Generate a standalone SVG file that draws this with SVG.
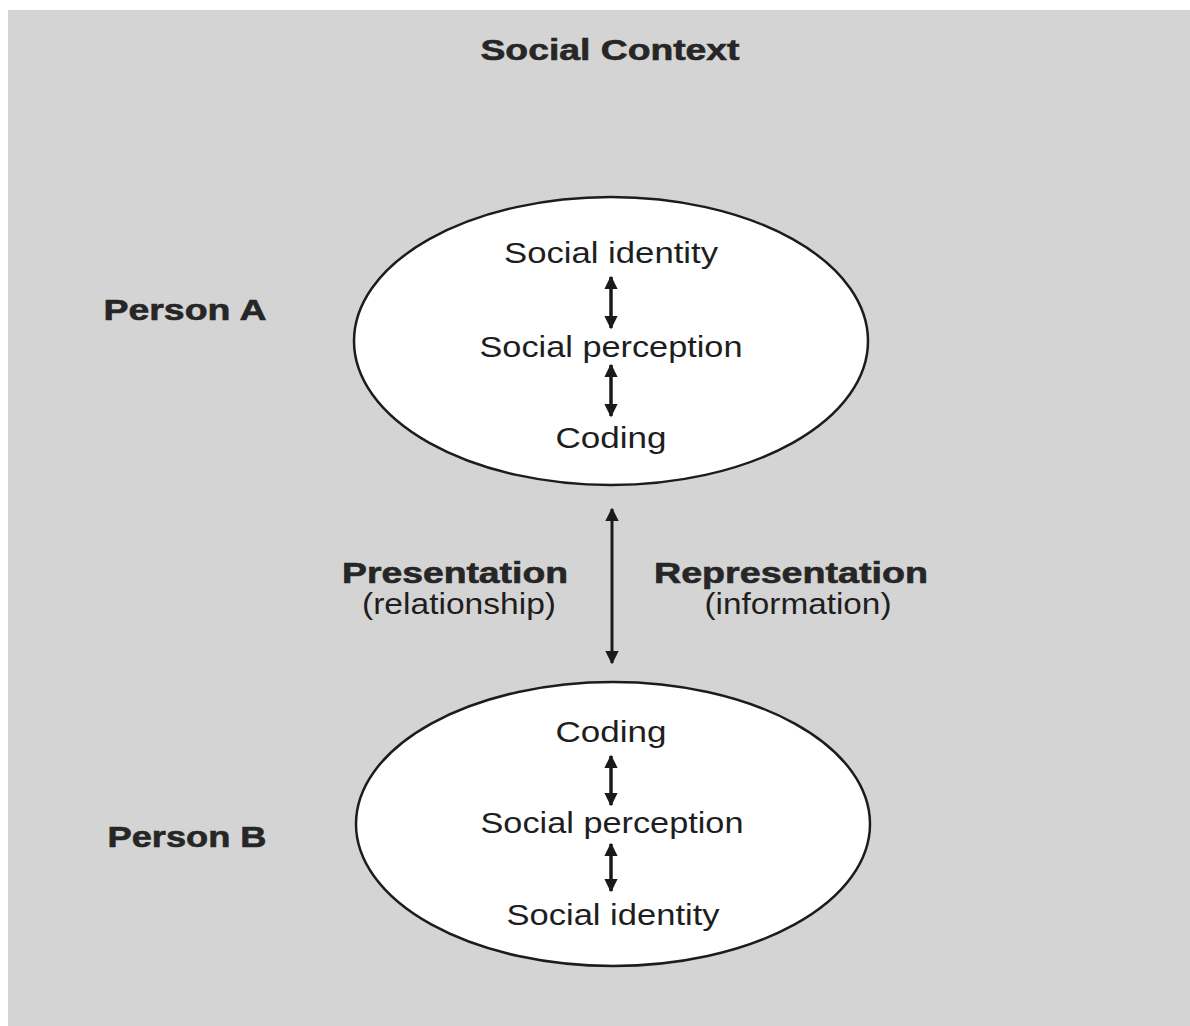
<svg xmlns="http://www.w3.org/2000/svg" width="1190" height="1026" viewBox="0 0 1190 1026">
<style>
  .bg { fill: #d4d4d4; }
  .node { fill: #ffffff; stroke: #1c1c1c; stroke-width: 2.5; }
  .t { font-family: "Liberation Sans", Arial, sans-serif; font-size: 29px; fill: #1e1e1e; text-anchor: middle; }
  .b { font-family: "Liberation Sans", Arial, sans-serif; font-size: 29px; font-weight: bold; fill: #262626; text-anchor: middle; stroke: #262626; stroke-width: 0.6; }
  .conn { stroke: #1a1a1a; fill: none; }
  .inner { stroke-width: 3.5; }
  .mid { stroke-width: 3; }
</style>
<defs>
  <marker id="ah" viewBox="0 0 10 10" refX="9" refY="5" markerWidth="3.8" markerHeight="3.8" markerUnits="strokeWidth" orient="auto-start-reverse">
    <path d="M0,0 L10,5 L0,10 z" fill="#1a1a1a"/>
  </marker>
  <marker id="ahm" viewBox="0 0 10 10" refX="9" refY="5" markerWidth="4.5" markerHeight="4.5" markerUnits="strokeWidth" orient="auto-start-reverse">
    <path d="M0,0 L10,5 L0,10 z" fill="#1a1a1a"/>
  </marker>
</defs>
<rect width="1190" height="1026" fill="#ffffff"/>
<rect class="bg" x="8" y="10" width="1182" height="1016"/>

<g id="title">
  <text class="b" x="610" y="60" textLength="259" lengthAdjust="spacingAndGlyphs">Social Context</text>
</g>
<g id="labelA">
  <text class="b" x="185" y="320" textLength="163" lengthAdjust="spacingAndGlyphs">Person A</text>
</g>
<g id="labelB">
  <text class="b" x="187" y="847" textLength="159" lengthAdjust="spacingAndGlyphs">Person B</text>
</g>

<g id="personA">
  <ellipse class="node" cx="611" cy="341" rx="257" ry="144"/>
  <text class="t" x="611" y="263" textLength="214" lengthAdjust="spacingAndGlyphs">Social identity</text>
  <text class="t" x="611" y="357" textLength="263" lengthAdjust="spacingAndGlyphs">Social perception</text>
  <text class="t" x="611" y="448" textLength="111" lengthAdjust="spacingAndGlyphs">Coding</text>
</g>

<g id="personB">
  <ellipse class="node" cx="613" cy="824" rx="257" ry="142"/>
  <text class="t" x="611" y="742" textLength="111" lengthAdjust="spacingAndGlyphs">Coding</text>
  <text class="t" x="612" y="833" textLength="263" lengthAdjust="spacingAndGlyphs">Social perception</text>
  <text class="t" x="613" y="925" textLength="213" lengthAdjust="spacingAndGlyphs">Social identity</text>
</g>

<g id="channel-labels">
  <text class="b" x="455" y="583" textLength="226" lengthAdjust="spacingAndGlyphs">Presentation</text>
  <text class="t" x="459" y="614" textLength="194" lengthAdjust="spacingAndGlyphs">(relationship)</text>
  <text class="b" x="791" y="583" textLength="274" lengthAdjust="spacingAndGlyphs">Representation</text>
  <text class="t" x="798" y="614" textLength="187" lengthAdjust="spacingAndGlyphs">(information)</text>
</g>

<g id="connectors">
  <line class="conn inner" x1="611" y1="277" x2="611" y2="328" marker-start="url(#ah)" marker-end="url(#ah)"/>
  <line class="conn inner" x1="611" y1="365" x2="611" y2="416" marker-start="url(#ah)" marker-end="url(#ah)"/>
  <line class="conn mid" x1="612" y1="509" x2="612" y2="663" marker-start="url(#ahm)" marker-end="url(#ahm)"/>
  <line class="conn inner" x1="611" y1="756" x2="611" y2="805" marker-start="url(#ah)" marker-end="url(#ah)"/>
  <line class="conn inner" x1="611" y1="844" x2="611" y2="891" marker-start="url(#ah)" marker-end="url(#ah)"/>
</g>
</svg>
